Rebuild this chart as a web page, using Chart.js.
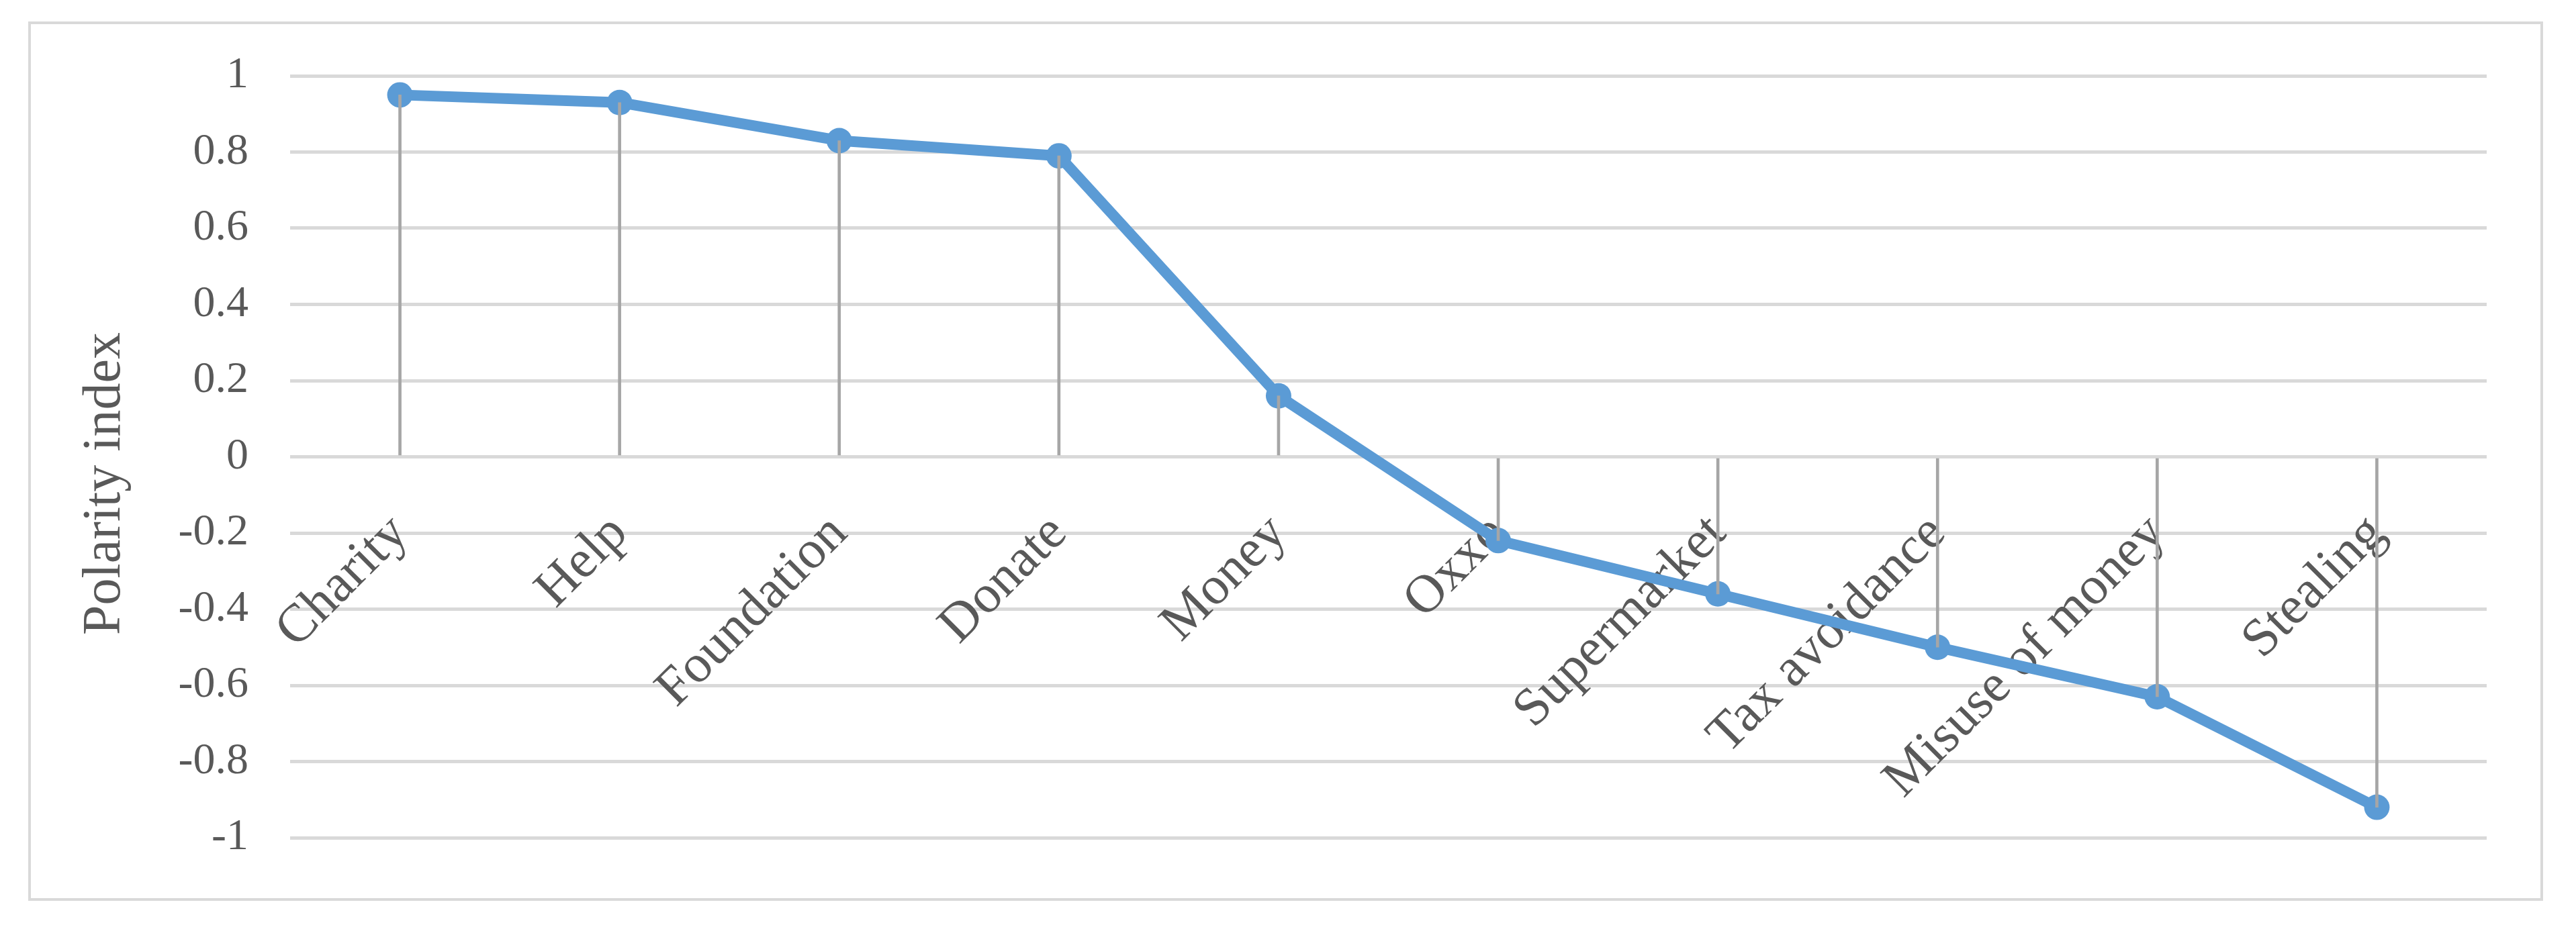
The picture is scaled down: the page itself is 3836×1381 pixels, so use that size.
<!DOCTYPE html>
<html>
<head>
<meta charset="utf-8">
<title>Polarity index</title>
<script src="https://cdn.jsdelivr.net/npm/chart.js@4/dist/chart.umd.min.js"></script>
<style>
  html, body { margin: 0; padding: 0; background: #ffffff; }
  .frame {
    position: absolute;
    left: 42px; top: 32px;
    width: 3745px; height: 1310px;
    border: 4px solid #d9d9d9;
    box-sizing: border-box;
  }
  .chart-box {
    position: absolute;
    left: 0; top: 0;
    width: 3836px; height: 1381px;
  }
</style>
</head>
<body>
<div class="frame"></div>
<div class="chart-box"><canvas id="chartPolarity"></canvas></div>
<script>
// Categories and polarity values
const categories = ['Charity', 'Help', 'Foundation', 'Donate', 'Money', 'Oxxo',
  'Supermarket', 'Tax avoidance', 'Misuse of money', 'Stealing'];
const polarity = [0.95, 0.93, 0.83, 0.79, 0.16, -0.22, -0.36, -0.50, -0.63, -0.92];
const yTicks = [-1, -0.8, -0.6, -0.4, -0.2, 0, 0.2, 0.4, 0.6, 0.8, 1];

const serif = "'Liberation Serif', 'DejaVu Serif', serif";
const tickFont = { family: serif, size: 66 };
const wordFont = { family: serif, size: 80 };
const textColor = '#595959';

new Chart(document.getElementById('chartPolarity'), {
  data: {
    labels: categories,
    datasets: [
      {
        // drop lines: thin bars from 0 up/down to the value
        type: 'bar',
        label: 'Drop lines',
        data: polarity,
        backgroundColor: '#a6a6a6',
        borderWidth: 0,
        barThickness: 4,
        order: 0
      },
      {
        type: 'line',
        label: 'Polarity index',
        data: polarity,
        borderColor: '#5b9bd5',
        backgroundColor: '#5b9bd5',
        borderWidth: 16,
        borderJoinStyle: 'round',
        tension: 0,
        pointRadius: 19,
        pointBorderWidth: 0,
        pointBackgroundColor: '#5b9bd5',
        clip: false,
        order: 1
      }
    ]
  },
  options: {
    responsive: true,
    maintainAspectRatio: false,
    animation: false,
    layout: { padding: { top: 113, bottom: 133, right: 133, left: 0 } },
    plugins: {
      legend: { display: false },
      tooltip: { enabled: false }
    },
    scales: {
      x: {
        type: 'category',
        position: { y: 0 },
        offset: true,
        grid: { display: false },
        border: { display: false },
        ticks: {
          autoSkip: false,
          minRotation: 45,
          maxRotation: 45,
          padding: 60,
          color: textColor,
          font: wordFont
        }
      },
      y: {
        type: 'linear',
        min: -1,
        max: 1,
        afterFit: function (scale) { scale.width = 432; },
        afterBuildTicks: function (scale) {
          scale.ticks = yTicks.map(function (v) { return { value: v }; });
        },
        grid: { color: '#d9d9d9', lineWidth: 5, drawTicks: false },
        border: { display: false },
        ticks: {
          padding: 62,
          color: textColor,
          font: tickFont,
          callback: function (v) { return String(Math.round(v * 10) / 10); }
        },
        title: {
          display: true,
          // trailing spaces nudge the rotated title a bit lower, like the original
          text: 'Polarity index    ',
          color: textColor,
          font: wordFont,
          padding: { top: 109, bottom: 0 }
        }
      }
    }
  }
});
</script>
</body>
</html>
